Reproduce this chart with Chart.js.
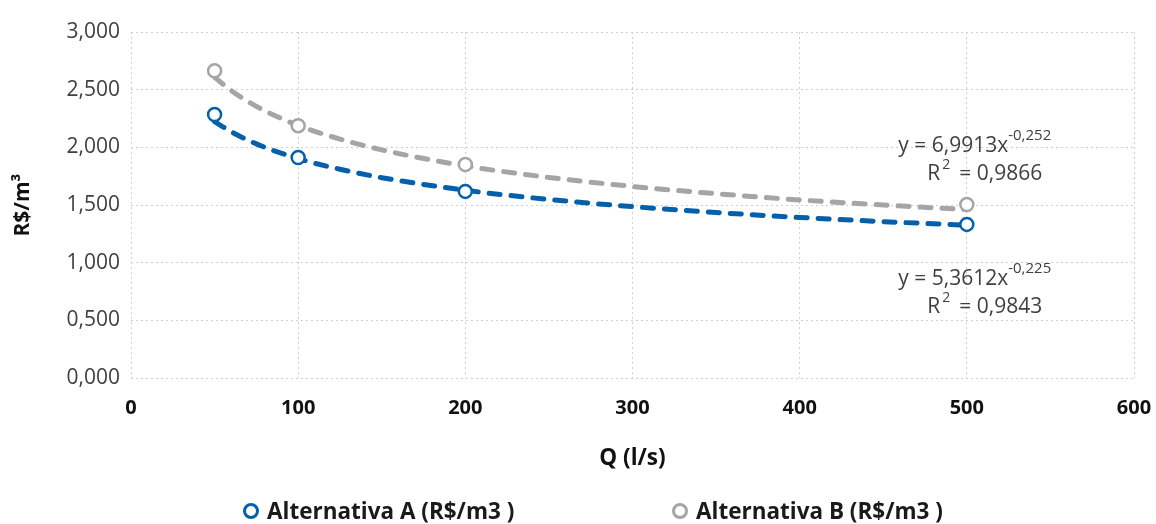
<!DOCTYPE html>
<html>
<head>
<meta charset="utf-8">
<script src="https://cdn.jsdelivr.net/npm/chart.js@4.4.1/dist/chart.umd.min.js"></script>
<style>
  html, body { margin: 0; padding: 0; background: #fff; }
  #wrap { position: relative; width: 1156px; height: 524px; }
  #legend {
    position: absolute; left: 0; top: 497px; width: 1156px; height: 28px;
    font: bold 22.5px "Open Sans", sans-serif; color: #1a1a1a; line-height: 28px;
  }
  .item { position: absolute; top: 0; display: flex; align-items: center; white-space: pre; height: 28px; }
  .dot { width: 10px; height: 10px; border-radius: 50%; border: 3px solid; margin-right: 8px; box-sizing: content-box; }
</style>
</head>
<body>
<div id="wrap">
  <canvas id="c" width="1156" height="524"></canvas>
  <div id="legend"></div>
</div>
<script>
// Q (l/s) vs R$/m3 — two alternatives with power trendlines (Excel style).

const xValues = [50, 100, 200, 500];
const altA = [2.284, 1.912, 1.618, 1.332];
const altB = [2.664, 2.188, 1.851, 1.505];

// trendline curves at these x positions
const trendX = [50, 60, 75, 100, 125, 150, 200, 250, 300, 350, 400, 450, 500];
const trendA = [2.223, 2.135, 2.030, 1.902, 1.810, 1.737, 1.628, 1.548, 1.486, 1.435, 1.392, 1.356, 1.325];
const trendB = [2.608, 2.492, 2.355, 2.190, 2.072, 1.978, 1.839, 1.739, 1.661, 1.598, 1.544, 1.500, 1.460];

const yTicks = [0, 0.5, 1, 1.5, 2, 2.5, 3];
const xTicks = [0, 100, 200, 300, 400, 500, 600];

const labelA = 'Alternativa A (R$/m3 )';
const labelB = 'Alternativa B (R$/m3 )';

const BLUE = '#0560ac';
const GRAY = '#a5a5a5';
const TEXT = '#404040';
const FONT = '"Open Sans", sans-serif';

const pts = (xs, ys) => xs.map((x, i) => ({ x, y: ys[i] }));

function pointSet(label, color, ys) {
  return {
    label, data: pts(xValues, ys), showLine: false,
    pointStyle: 'circle', pointRadius: 6.5, pointHoverRadius: 6.5,
    pointBorderWidth: 2.5, pointBorderColor: color, pointBackgroundColor: '#fff',
    borderColor: color, backgroundColor: '#fff'
  };
}

function trendSet(color, ys) {
  return {
    label: 'trend', data: pts(trendX, ys), showLine: true,
    borderColor: color, borderWidth: 5, borderDash: [11, 11], borderCapStyle: 'round',
    cubicInterpolationMode: 'monotone', pointRadius: 0, fill: false
  };
}

// Excel-like equation labels next to the last points
const equations = {
  id: 'equations',
  afterDatasetsDraw(chart) {
    const { ctx, scales: { x, y } } = chart;
    const left = x.getPixelForValue(459);
    const draw = (yv, coef, exp, r2) => {
      const base = y.getPixelForValue(yv);
      ctx.save();
      ctx.fillStyle = TEXT;
      ctx.textBaseline = 'alphabetic';
      ctx.font = '21px ' + FONT;
      const main = 'y = ' + coef + 'x';
      ctx.fillText(main, left, base);
      const w = ctx.measureText(main).width;
      ctx.font = '15px ' + FONT;
      ctx.fillText(exp, left + w, base - 12);
      ctx.font = '21px ' + FONT;
      const rx = left + 29;
      ctx.fillText('R', rx, base + 27.5);
      const rw = ctx.measureText('R').width;
      ctx.font = '14px ' + FONT;
      ctx.fillText('2', rx + rw + 2, base + 17);
      ctx.font = '21px ' + FONT;
      ctx.fillText('= ' + r2, rx + rw + 19, base + 27.5);
      ctx.restore();
    };
    draw(1.958, '6,9913', '-0,252', '0,9866');
    draw(0.806, '5,3612', '-0,225', '0,9843');
  }
};

new Chart(document.getElementById('c'), {
  type: 'scatter',
  data: {
    datasets: [
      pointSet(labelA, BLUE, altA),
      pointSet(labelB, GRAY, altB),
      trendSet(BLUE, trendA),
      trendSet(GRAY, trendB)
    ]
  },
  options: {
    responsive: false,
    animation: false,
    events: [],
    layout: { padding: { left: 0, top: 32, right: 22, bottom: 44 } },
    plugins: { legend: { display: false }, tooltip: { enabled: false } },
    scales: {
      x: {
        type: 'linear', min: 0, max: 600,
        afterBuildTicks: s => { s.ticks = xTicks.map(v => ({ value: v })); },
        afterFit: s => { s.height = 102; s.paddingLeft = 0; s.paddingRight = 0; },
        grid: { color: '#cfcfcf', lineWidth: 1, drawTicks: false },
        border: { display: false, dash: [2, 3] },
        ticks: { padding: 18, color: '#111', font: { family: FONT, size: 20, weight: 'bold' } },
        title: { display: true, text: 'Q (l/s)', color: '#111', padding: { top: 0, bottom: 7.5 },
                 font: { family: FONT, size: 22.5, weight: 'bold' } }
      },
      y: {
        type: 'linear', min: 0, max: 3,
        afterBuildTicks: s => { s.ticks = yTicks.map(v => ({ value: v })); },
        afterFit: s => { s.width = 131; s.paddingTop = 0; s.paddingBottom = 0; },
        grid: { color: '#cfcfcf', lineWidth: 1, drawTicks: false },
        border: { display: false, dash: [2, 3] },
        ticks: { padding: 11, color: TEXT, font: { family: FONT, size: 21 },
                 callback: v => v.toFixed(3).replace('.', ',') },
        title: { display: true, text: 'R$/m³', color: '#111', padding: { top: 10, bottom: 0 },
                 font: { family: FONT, size: 21, weight: 'bold' } }
      }
    }
  },
  plugins: [equations, {
    // dotted grid lines
    id: 'dottedGrid',
    beforeDraw(c) {
      c.scales.x.options.grid.borderDash = [2, 3];
      c.scales.y.options.grid.borderDash = [2, 3];
    }
  }]
});

// legend
const legend = document.getElementById('legend');
[[labelA, BLUE, 243], [labelB, GRAY, 672]].forEach(([text, color, left]) => {
  const item = document.createElement('div');
  item.className = 'item';
  item.style.left = left + 'px';
  const dot = document.createElement('span');
  dot.className = 'dot';
  dot.style.borderColor = color;
  const label = document.createElement('span');
  label.textContent = text;
  item.appendChild(dot);
  item.appendChild(label);
  legend.appendChild(item);
});
</script>
</body>
</html>
